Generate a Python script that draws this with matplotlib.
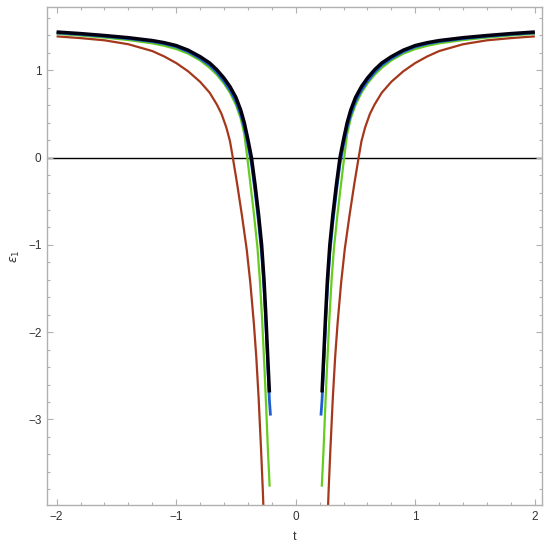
import numpy as np
import matplotlib.pyplot as plt
from matplotlib.ticker import MultipleLocator

# left branch (|t|, eps1); the right branch is the mirror image
black_t = [2.0, 1.8, 1.6, 1.4, 1.2, 1.1, 1.0, 0.9, 0.8, 0.72, 0.66, 0.60, 0.55, 0.50,
           0.46, 0.43, 0.40, 0.37, 0.34, 0.31, 0.285, 0.265, 0.25, 0.235, 0.22]
black_y = [1.440, 1.422, 1.400, 1.375, 1.342, 1.318, 1.285, 1.232, 1.158, 1.085, 1.008,
           0.912, 0.815, 0.690, 0.545, 0.400, 0.210, 0.0, -0.31, -0.66, -1.00, -1.40,
           -1.80, -2.25, -2.69]

blue_t = [2.0, 1.8, 1.6, 1.4, 1.2, 1.1, 1.0, 0.9, 0.8, 0.72, 0.66, 0.60, 0.55, 0.50,
          0.46, 0.43, 0.40, 0.37, 0.34, 0.31, 0.285, 0.265, 0.25, 0.235, 0.22, 0.211]
blue_y = [1.430, 1.412, 1.390, 1.364, 1.330, 1.305, 1.270, 1.214, 1.136, 1.060, 0.978,
          0.877, 0.775, 0.645, 0.495, 0.345, 0.150, -0.07, -0.39, -0.75, -1.10, -1.50,
          -1.90, -2.35, -2.78, -2.955]

green_t = [2.0, 1.8, 1.6, 1.4, 1.2, 1.1, 1.0, 0.9, 0.8, 0.72, 0.66, 0.60, 0.55, 0.50,
           0.46, 0.43, 0.405, 0.38, 0.35, 0.32, 0.30, 0.28, 0.26, 0.245, 0.232, 0.218]
green_y = [1.420, 1.400, 1.376, 1.348, 1.310, 1.282, 1.245, 1.192, 1.115, 1.030, 0.950,
           0.850, 0.745, 0.605, 0.450, 0.270, 0.0, -0.29, -0.64, -1.03, -1.40, -1.88,
           -2.45, -2.93, -3.37, -3.77]

brown_t = [2.0, 1.8, 1.6, 1.4, 1.2, 1.1, 1.0, 0.9, 0.8, 0.72, 0.66, 0.62, 0.58, 0.55,
           0.526, 0.49, 0.45, 0.41, 0.38, 0.35, 0.33, 0.31, 0.29, 0.275, 0.265]
brown_y = [1.390, 1.370, 1.345, 1.300, 1.222, 1.160, 1.085, 0.990, 0.870, 0.745, 0.610,
           0.500, 0.345, 0.190, 0.0, -0.30, -0.66, -1.05, -1.43, -1.90, -2.28, -2.76,
           -3.34, -3.82, -4.20]

fig = plt.figure(figsize=(5.5, 5.49), dpi=100)
ax = fig.add_axes([0.0855, 0.0801, 0.90, 0.9077])

ax.axhline(0, color="black", lw=1.0, zorder=1)

curves = [
    (brown_t, brown_y, "#a5381c", 1.6),
    (green_t, green_y, "#66cc1f", 1.6),
    (blue_t, blue_y, "#1f5fd0", 2.0),
    (black_t, black_y, "#000010", 2.5),
]
for tt, yy, col, lw in curves:
    tt = np.array(tt)
    yy = np.array(yy)
    ax.plot(-tt, yy, color=col, lw=lw, solid_capstyle="butt", solid_joinstyle="round")
    ax.plot(tt, yy, color=col, lw=lw, solid_capstyle="butt", solid_joinstyle="round")

ax.set_xlim(-2.08, 2.06)
ax.set_ylim(-3.98, 1.73)

ax.xaxis.set_major_locator(MultipleLocator(1))
ax.xaxis.set_minor_locator(MultipleLocator(0.2))
ax.yaxis.set_major_locator(MultipleLocator(1))
ax.yaxis.set_minor_locator(MultipleLocator(0.2))

frame_col = "#b0b0b0"
for s in ax.spines.values():
    s.set_color(frame_col)
    s.set_linewidth(1.0)
ax.tick_params(which="both", direction="in", top=True, right=True, color=frame_col,
               labelcolor="#333333", labelsize=8.5, width=0.8, labelfontfamily="Liberation Sans")
ax.tick_params(which="major", length=4.5, pad=4)
ax.tick_params(which="minor", length=2.3)

ax.set_xlabel("t", fontsize=9, color="#333333", family="Liberation Sans", labelpad=6)
ax.set_ylabel(r"$\epsilon_1$", fontsize=9, color="#333333", labelpad=4)

fig.savefig("out.png", dpi=100)
